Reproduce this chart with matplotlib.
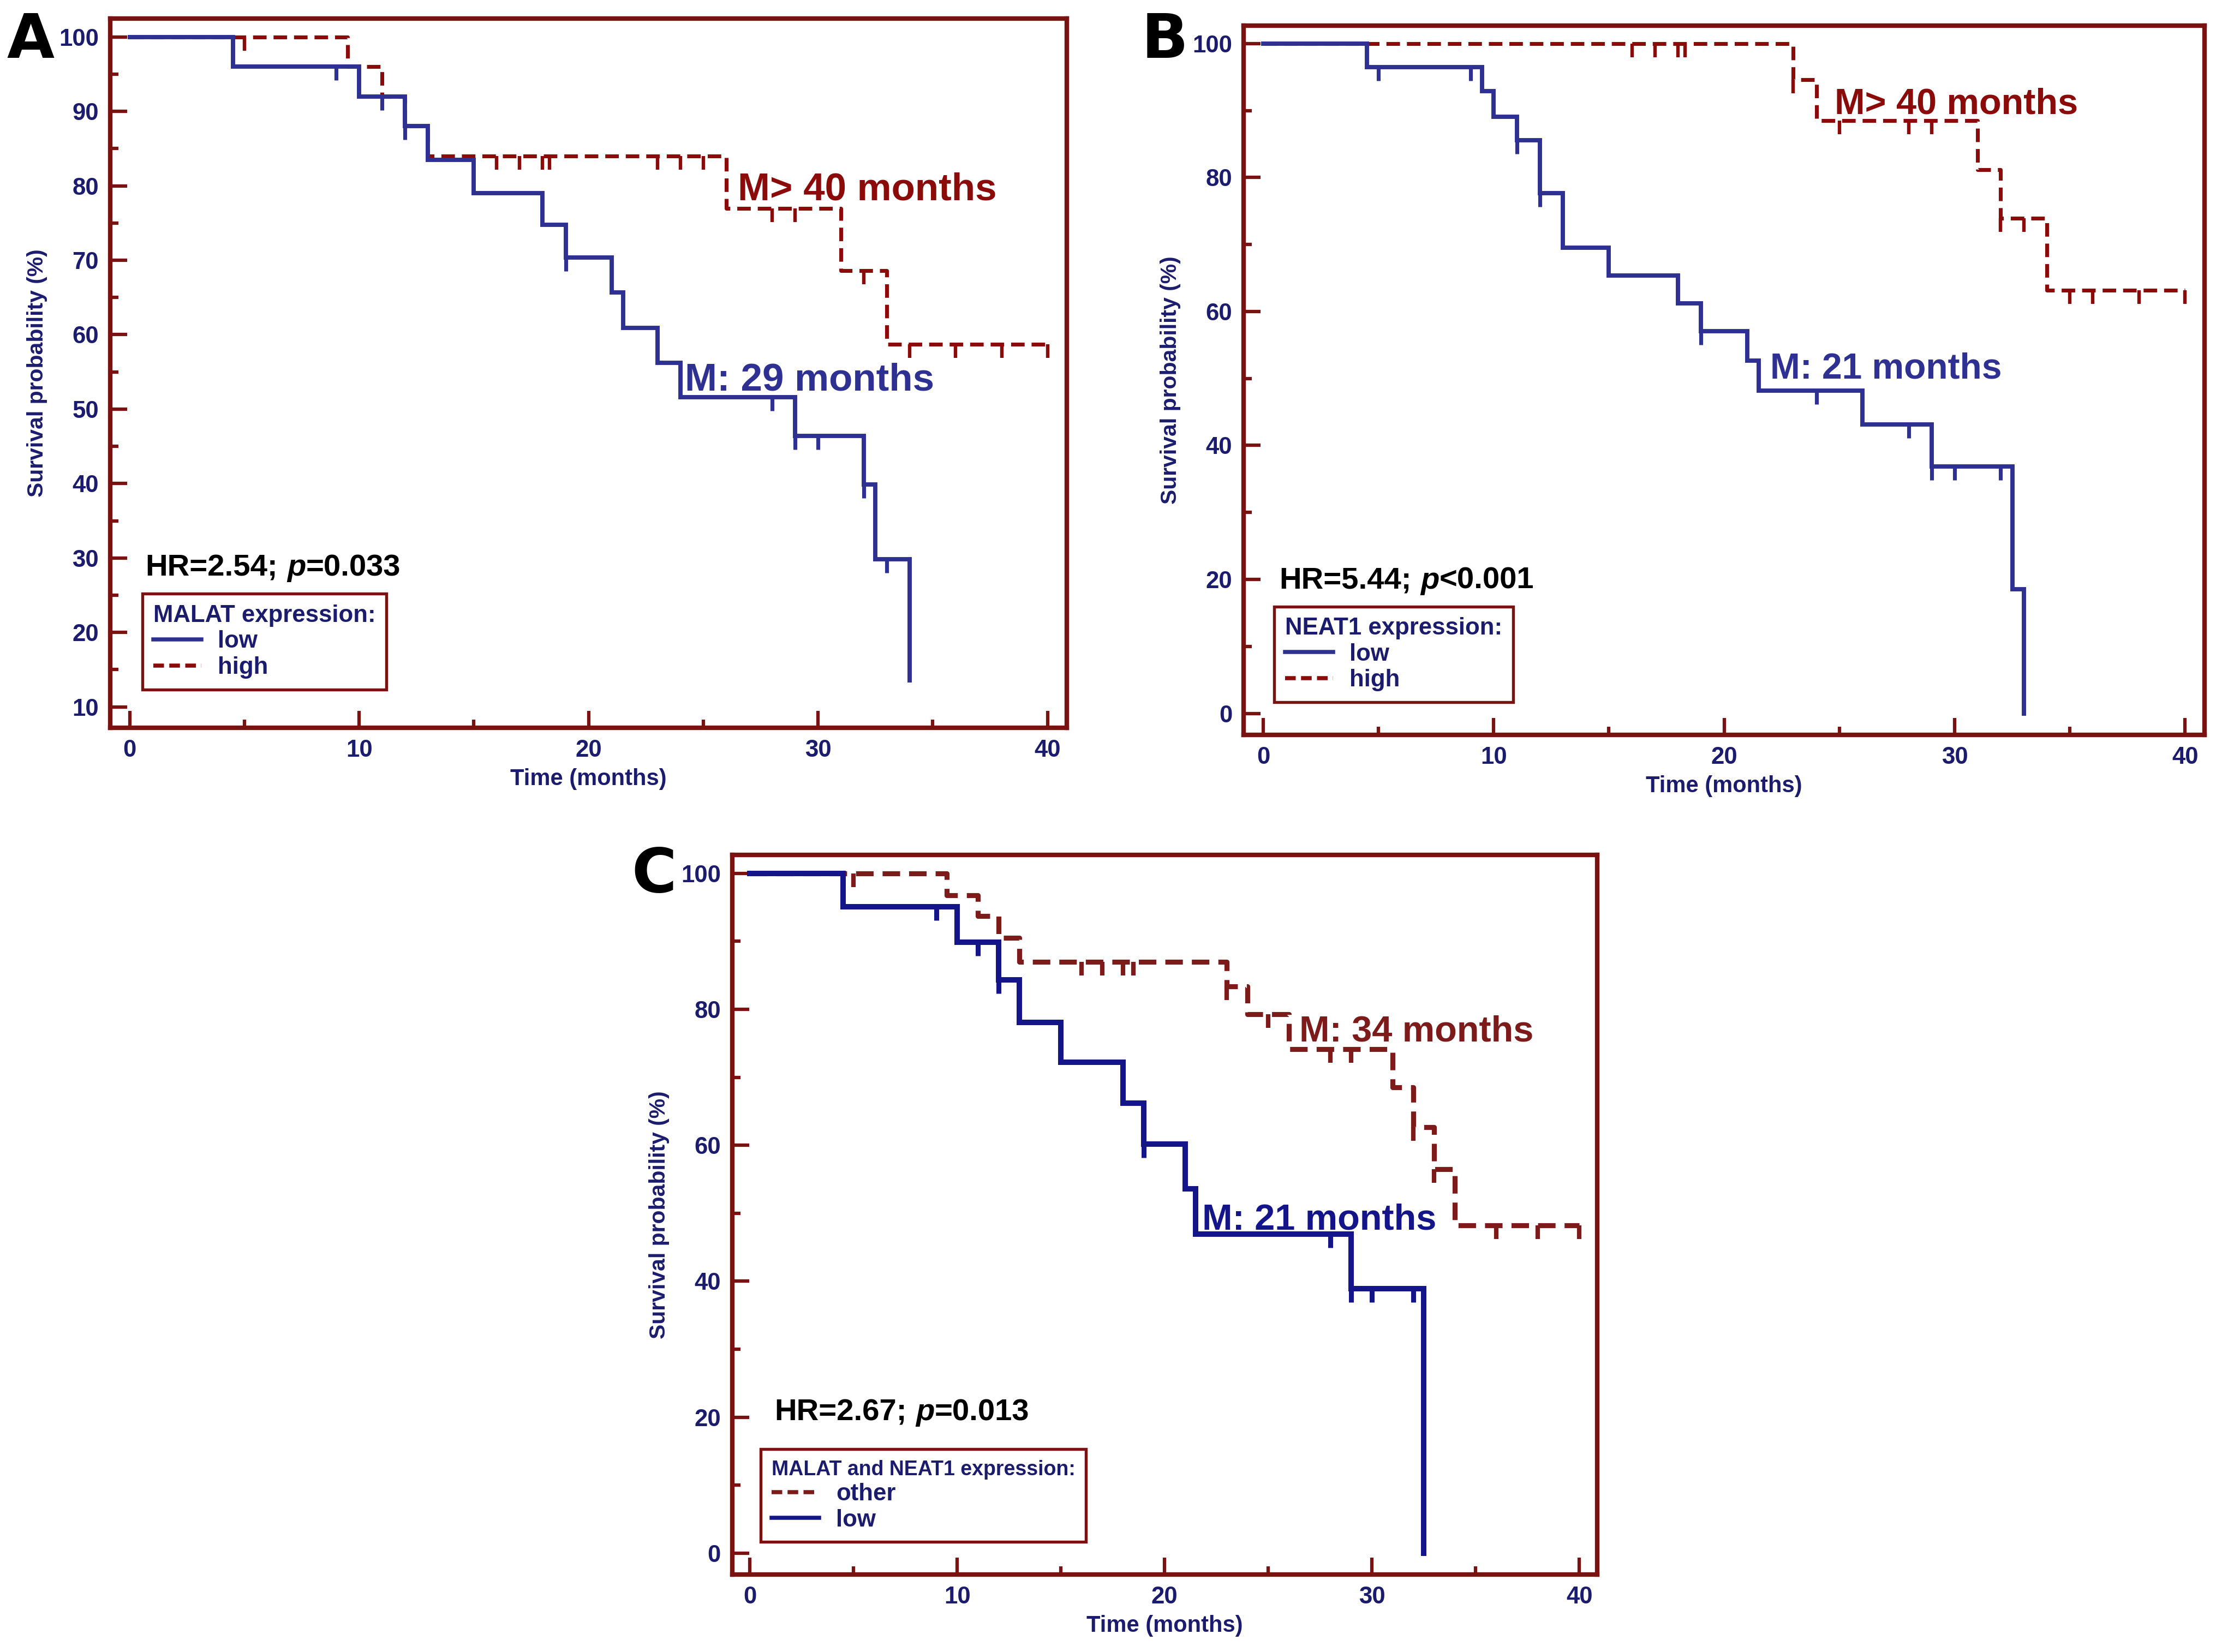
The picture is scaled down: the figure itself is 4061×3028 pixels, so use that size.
import numpy as np
import matplotlib.pyplot as plt
from matplotlib.path import Path
from matplotlib.lines import Line2D
from matplotlib import font_manager as fm

# fonts
names = {f.name for f in fm.fontManager.ttflist}
narrow = 'Liberation Sans Narrow' if 'Liberation Sans Narrow' in names else 'Liberation Sans'
sans = 'Liberation Sans'

# colours
navy = '#1c1c6e'
frame = '#7a1212'

# ---- data (months, survival %) ----
# Panel A: MALAT expression
a_low_t = [0, 4.5, 10, 12, 13, 15, 18, 19, 21, 21.5, 23, 24, 29, 32, 32.5, 34]
a_low_s = [100, 96, 92, 88, 83.5, 79, 74.8, 70.4, 65.7, 60.9, 56.2, 51.6, 46.4, 39.9, 29.8, 13.6]
a_low_end = 34
a_low_cens = [9, 11, 12, 19, 28, 29, 30, 32, 33]

a_high_t = [0, 9.5, 11, 12, 13, 26, 31, 33]
a_high_s = [100, 96, 92, 88, 84, 77, 68.6, 58.7]
a_high_end = 40
a_high_cens = [5, 10, 16, 17, 18, 18.3, 23, 24, 25, 28, 29, 32, 34, 36, 38, 40]

# Panel B: NEAT1 expression
b_low_t = [0, 4.5, 9.5, 10, 11, 12, 13, 15, 18, 19, 21, 21.5, 26, 29, 32.5, 33]
b_low_s = [100, 96.5, 92.9, 89.1, 85.6, 77.7, 69.5, 65.4, 61.2, 57.1, 52.7, 48.2, 43.1, 36.9, 18.5, 0]
b_low_end = 33
b_low_cens = [5, 9, 11, 12, 19, 24, 28, 29, 30, 32]

b_high_t = [0, 23, 24, 31, 32, 34]
b_high_s = [100, 94.6, 88.5, 81.2, 73.9, 63.2]
b_high_end = 40
b_high_cens = [16, 17, 18, 18.3, 23, 25, 28, 29, 32, 33, 35, 36, 38, 40]

# Panel C: MALAT and NEAT1 expression
c_low_t = [0, 4.5, 10, 12, 13, 15, 18, 19, 21, 21.5, 29, 32.5]
c_low_s = [100, 95.1, 89.9, 84.3, 78.1, 72.2, 66.2, 60.2, 53.6, 46.9, 38.9, 0]
c_low_end = 32.5
c_low_cens = [9, 11, 12, 19, 28, 29, 30, 32]

c_oth_t = [0, 9.5, 11, 12, 13, 23, 24, 26, 31, 32, 33, 34]
c_oth_s = [100, 96.8, 93.7, 90.5, 87.0, 83.4, 79.3, 74.1, 68.5, 62.7, 56.5, 48.2]
c_oth_end = 40
c_oth_cens = [5, 16, 17, 18, 18.5, 23, 25, 28, 29, 32, 33, 36, 38, 40]

# censor mark: short tick hanging below the curve
tick_down = Path([(0, 0), (0, -1)], [Path.MOVETO, Path.LINETO])


def km(ax, t, s, end, cens, color, lw, dashed):
    t = list(t) + [end]
    s = list(s) + [s[-1]]
    ls = (0, (3.5, 1.8)) if dashed else '-'
    ax.step(t, s, where='post', color=color, lw=lw, ls=ls, solid_joinstyle='miter')
    idx = np.searchsorted(t[:-1], cens, side='right') - 1
    cy = np.array(s)[idx]
    ax.plot(cens, cy, ls='none', marker=tick_down, ms=12, mew=lw * 0.9, color=color)


def hr_text(ax, x, y, hr, ptxt):
    kw = dict(fontsize=13.5, fontweight='bold', family=sans, color='black', va='bottom')
    t1 = ax.text(x, y, 'HR=%s;' % hr, transform=ax.transAxes, **kw)
    t2 = ax.annotate('p', xy=(1, 0), xycoords=t1, xytext=(4, 0),
                     textcoords='offset points', style='italic', **kw)
    ax.annotate(ptxt, xy=(1, 0), xycoords=t2, **kw)


def style_axes(ax, ymin, ymax, ymajor, yminor, ylim):
    ax.set_xlim(-0.85, 40.85)
    ax.set_ylim(*ylim)
    ax.set_xticks([0, 10, 20, 30, 40])
    ax.set_xticks([5, 15, 25, 35], minor=True)
    ax.set_yticks(np.arange(ymin, ymax + 1, ymajor))
    ax.set_yticks(np.arange(ymin + yminor, ymax, ymajor), minor=True)
    for sp in ax.spines.values():
        sp.set_color(frame)
        sp.set_linewidth(2.0)
    ax.tick_params(which='both', direction='in', color=frame, width=1.5)
    ax.tick_params(which='major', length=7.5, pad=5)
    ax.tick_params(which='minor', length=3.5)
    for lab in ax.get_xticklabels() + ax.get_yticklabels():
        lab.set_family(narrow)
        lab.set_fontweight('bold')
        lab.set_fontsize(10.5)
        lab.set_color(navy)
    ax.set_xlabel('Time (months)', family=narrow, fontweight='bold', fontsize=10,
                  color=navy, labelpad=3)
    ax.set_ylabel('Survival probability (%)', family=sans, fontweight='bold', fontsize=9.8,
                  color=navy, labelpad=5)


def legend(ax, title, labels, colors, dashed, anchor, tsize=10.5):
    handles = [Line2D([], [], color=c, lw=1.8, ls=(0, (2.6, 1.3)) if d else '-')
               for c, d in zip(colors, dashed)]
    leg = ax.legend(handles, labels, title=title, loc='lower left', bbox_to_anchor=anchor,
                    frameon=True, fancybox=False, edgecolor=frame, framealpha=1,
                    alignment='left', handlelength=2.0, handletextpad=0.7,
                    labelspacing=0.15, borderpad=0.45, borderaxespad=0,
                    prop={'family': narrow, 'weight': 'bold', 'size': 10.5},
                    title_fontproperties={'family': narrow, 'weight': 'bold', 'size': tsize})
    leg.get_frame().set_linewidth(1.3)
    leg.get_title().set_color(navy)
    for t in leg.get_texts():
        t.set_color(navy)


fig = plt.figure(figsize=(4061 / 300, 3028 / 300), dpi=300)

# ---- A ----
blue_a, red_a = '#2f3192', '#8b0a0a'
axA = fig.add_axes([0.0497, 0.5595, 0.4318, 0.4294])
km(axA, a_high_t, a_high_s, a_high_end, a_high_cens, red_a, 1.7, True)
km(axA, a_low_t, a_low_s, a_low_end, a_low_cens, blue_a, 1.9, False)
style_axes(axA, 10, 100, 10, 5, (7.2, 102.5))
axA.text(26.5, 78.1, 'M> 40 months', color=red_a, fontsize=17, fontweight='bold', family=sans)
axA.text(24.2, 52.5, 'M: 29 months', color=blue_a, fontsize=17, fontweight='bold', family=sans)
hr_text(axA, 0.037, 0.205, '2.54', '=0.033')
legend(axA, 'MALAT expression:', ['low', 'high'], [blue_a, red_a], [False, True], (0.034, 0.054))

# ---- B ----
axB = fig.add_axes([0.5612, 0.5552, 0.4337, 0.4294])
km(axB, b_high_t, b_high_s, b_high_end, b_high_cens, red_a, 1.7, True)
km(axB, b_low_t, b_low_s, b_low_end, b_low_cens, blue_a, 1.9, False)
style_axes(axB, 0, 100, 20, 10, (-3.2, 102.7))
axB.text(24.8, 89.5, 'M> 40 months', color=red_a, fontsize=16, fontweight='bold', family=sans)
axB.text(22.0, 50.0, 'M: 21 months', color=blue_a, fontsize=15.8, fontweight='bold', family=sans)
hr_text(axB, 0.037, 0.197, '5.44', '<0.001')
legend(axB, 'NEAT1 expression:', ['low', 'high'], [blue_a, red_a], [False, True], (0.032, 0.046))

# ---- C ----
blue_c, red_c = '#15158a', '#7d1a1a'
axC = fig.add_axes([0.3304, 0.0470, 0.3903, 0.4355])
km(axC, c_oth_t, c_oth_s, c_oth_end, c_oth_cens, red_c, 2.2, True)
km(axC, c_low_t, c_low_s, c_low_end, c_low_cens, blue_c, 2.4, False)
style_axes(axC, 0, 100, 20, 10, (-3.1, 102.7))
axC.text(26.5, 75.3, 'M: 34 months', color=red_c, fontsize=16, fontweight='bold', family=sans)
axC.text(21.8, 47.6, 'M: 21 months', color=blue_c, fontsize=16, fontweight='bold', family=sans)
hr_text(axC, 0.049, 0.205, '2.67', '=0.013')
legend(axC, 'MALAT and NEAT1 expression:', ['other', 'low'], [red_c, blue_c], [True, False],
       (0.033, 0.045), tsize=9)

# panel letters
for x, y, s in [(0.003, 0.993, 'A'), (0.515, 0.993, 'B'), (0.285, 0.488, 'C')]:
    fig.text(x, y, s, fontsize=27, fontweight='heavy', family='DejaVu Sans', va='top', ha='left')

fig.savefig('out.png', dpi=300, facecolor='white')
